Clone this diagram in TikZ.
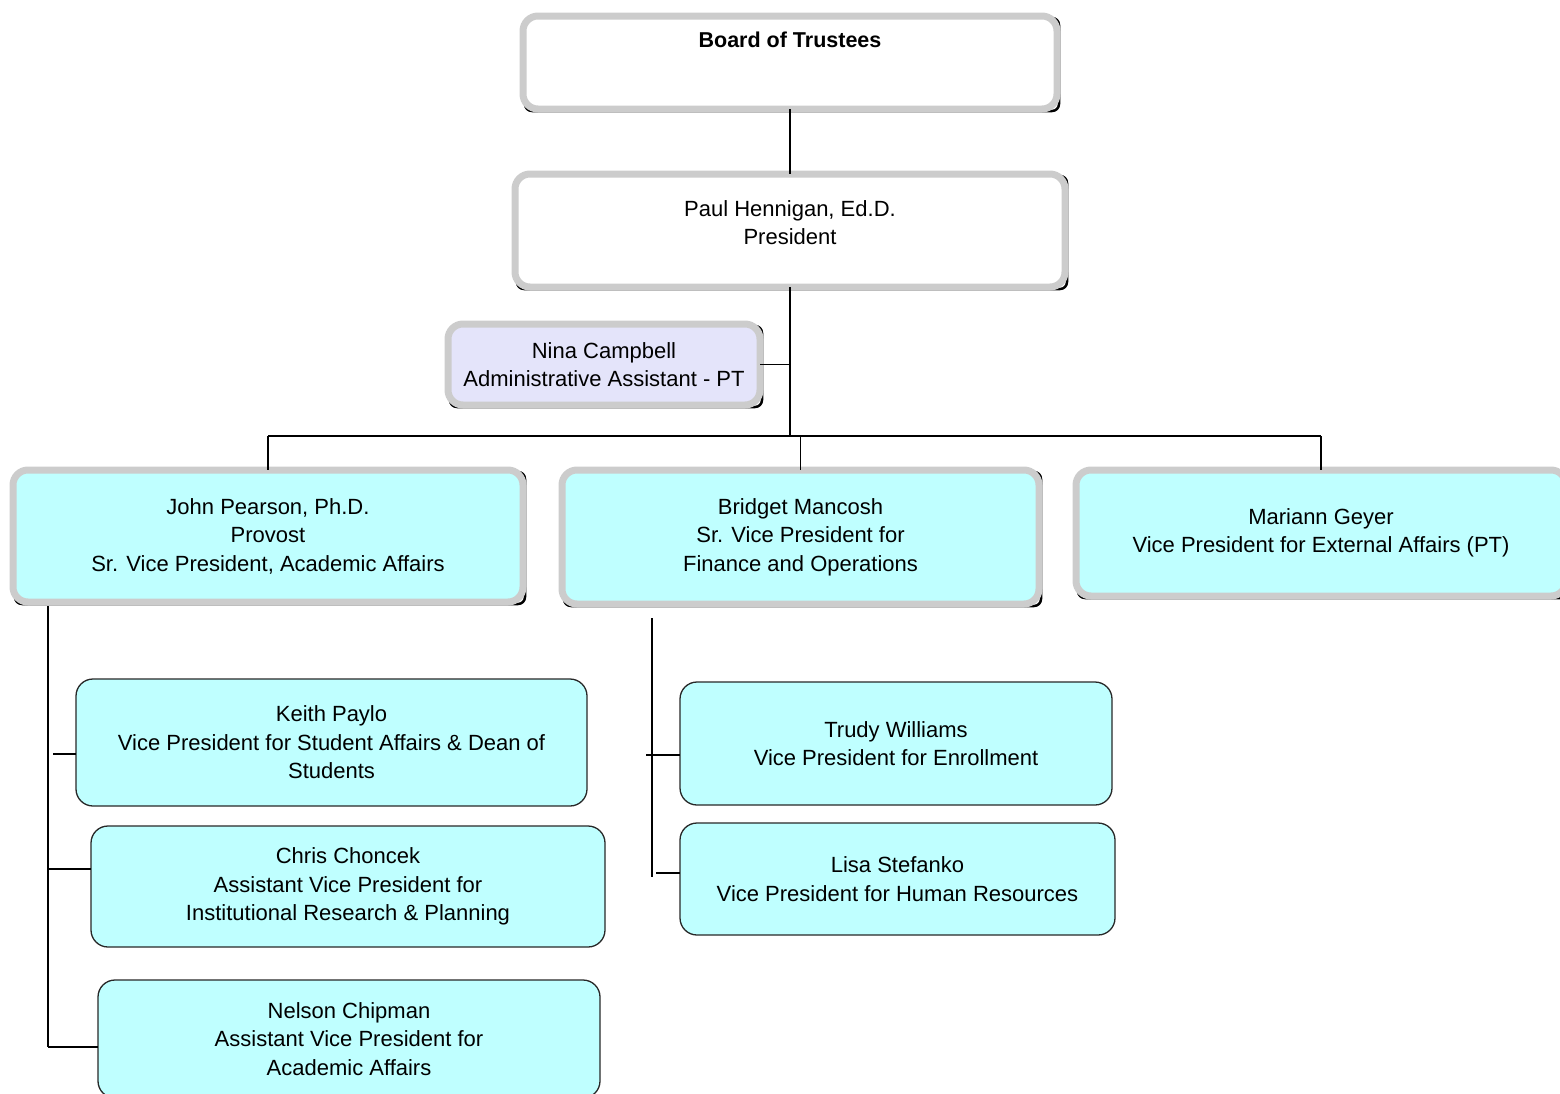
\documentclass[tikz,border=0pt]{standalone}
\usepackage{fontspec}
\setmainfont{Liberation Sans}
\usetikzlibrary{backgrounds}
\definecolor{cyanfill}{RGB}{191,255,255}
\definecolor{lavfill}{RGB}{228,228,250}
\definecolor{heavygray}{RGB}{204,204,204}
\definecolor{thinline}{RGB}{40,40,40}
\begin{document}
\begin{tikzpicture}[x=1pt,y=-1pt,
  boxtext/.style={align=center, font=\fontsize{22}{28.5}\selectfont},
  heavy/.style={boxtext, draw=heavygray, line width=7pt, rounded corners=15pt, inner sep=0pt, outer sep=0pt},
  thinbox/.style={boxtext, draw=thinline, line width=1.3pt, rounded corners=17pt, fill=cyanfill, inner sep=0pt, outer sep=0pt},
  shadowline/.style={draw=black, line width=2.5pt, rounded corners=7pt},
  conn/.style={draw=black, line width=1.2pt}]
\useasboundingbox (0,0) rectangle (1560,1093);
% heavy boxes
\node[heavy, fill=white, minimum width=534pt, minimum height=93pt,
  label={[boxtext, font=\fontsize{21.5}{28.5}\selectfont\bfseries, yshift=22.5pt]center:Board of Trustees}] (board) at (790,62.5) {};
\node[heavy, fill=white, minimum width=550pt, minimum height=113pt,
  label={[boxtext, yshift=8pt]center:Paul Hennigan, Ed.D.\\President}] (pres) at (790,230.5) {};
\node[heavy, fill=lavfill, minimum width=312pt, minimum height=81pt] (nina) at (604,364.5) {Nina Campbell\\Administrative Assistant - PT};
\node[heavy, fill=cyanfill, minimum width=510pt, minimum height=132pt] (john) at (268,536) {John Pearson, Ph.D.\\Provost\\Sr. Vice President, Academic Affairs};
\node[heavy, fill=cyanfill, minimum width=477pt, minimum height=134pt] (bridget) at (800.5,537) {Bridget Mancosh\\Sr. Vice President for\\Finance and Operations};
\node[heavy, fill=cyanfill, minimum width=490pt, minimum height=126pt] (mariann) at (1321,533) {Mariann Geyer\\Vice President for External Affairs (PT)};
% thin boxes
\node[thinbox, minimum width=511pt, minimum height=127pt] (keith) at (331.5,742.5) {Keith Paylo\\Vice President for Student Affairs \& Dean of\\Students};
\node[thinbox, minimum width=514pt, minimum height=121pt] (chris) at (348,886.5) {Chris Choncek\\Assistant Vice President for\\Institutional Research \& Planning};
\node[thinbox, minimum width=502pt, minimum height=118pt] (nelson) at (349,1039) {Nelson Chipman\\Assistant Vice President for\\Academic Affairs};
\node[thinbox, minimum width=432pt, minimum height=123pt] (trudy) at (896,743.5) {Trudy Williams\\Vice President for Enrollment};
\node[thinbox, minimum width=435pt, minimum height=112pt] (lisa) at (897.5,879) {Lisa Stefanko\\Vice President for Human Resources};
% shadows
\begin{pgfonlayer}{background}
\foreach \n in {board,pres,nina,john,bridget,mariann}
  \draw[shadowline] ([shift={(2pt,-2pt)}]\n.north west) rectangle ([shift={(2pt,-2pt)}]\n.south east);
\end{pgfonlayer}
% connectors
\coordinate (busmid) at (790,436);
\draw[conn] (board.south) -- (pres.north);
\draw[conn] (pres.south) -- (busmid);
\draw[conn] (nina.east) -- (nina.east -| pres.south);
\draw[conn] (john.north |- busmid) -- (mariann.north |- busmid);
\draw[conn] (john.north |- busmid) -- (john.north);
\draw[conn] (bridget.north |- busmid) -- (bridget.north);
\draw[conn] (mariann.north |- busmid) -- (mariann.north);
% provost subordinates
\coordinate (jv1) at (48,606);
\coordinate (jv2) at (48,1047);
\draw[conn] (jv1) -- (jv2);
\coordinate (kt) at (53,754);
\draw[conn] (kt) -- (kt -| keith.west);
\coordinate (ct) at (48,869);
\draw[conn] (ct) -- (ct -| chris.west);
\draw[conn] (jv2) -- (jv2 -| nelson.west);
% finance subordinates
\coordinate (bv1) at (652,618);
\coordinate (bv2) at (652,877);
\draw[conn] (bv1) -- (bv2);
\coordinate (tt) at (646,755);
\draw[conn] (tt) -- (tt -| trudy.west);
\coordinate (lt) at (656,873);
\draw[conn] (lt) -- (lt -| lisa.west);
\end{tikzpicture}
\end{document}
